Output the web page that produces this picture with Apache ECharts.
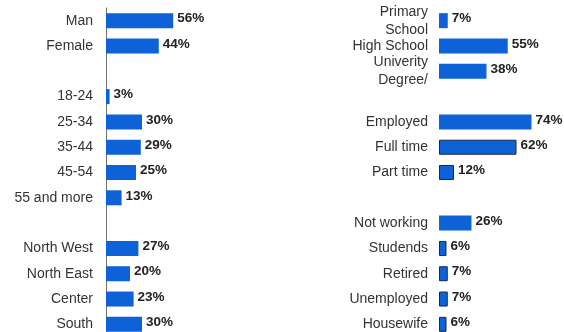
<!DOCTYPE html>
<html><head><meta charset="utf-8">
<script src="https://cdn.jsdelivr.net/npm/echarts@6/dist/echarts.min.js"></script>
<style>html,body{margin:0;padding:0;background:#fff;overflow:hidden;width:564px;height:332px}#c{width:564px;height:345px}</style>
</head><body><div id="c"></div>
<script>
const leftCategories = ['Man','Female',' ','18-24','25-34','35-44','45-54','55 and more','  ','North West','North East','Center','South'];
const leftValues = [56,44,null,3,30,29,25,13,null,27,20,23,30];
const rightCategories = ['Primary\nSchool','High School','Univerity\nDegree/',' ','Employed','Full time','Part time','  ','Not working','Studends','Retired','Unemployed','Housewife'];
const rightValues = [7,55,38,null,74,62,12,null,26,6,7,7,6];
const rightSubItems = ['Full time','Part time','Studends','Retired','Unemployed','Housewife'];

const BLUE = '#0d62d8';
const labelFont = {fontFamily:'Liberation Sans, Arial, sans-serif', fontSize:14, color:'#333'};
const valueLabel = {show:true, position:'right', distance:4, offset:[0,-2], formatter:p=>p.value==null?'':p.value+'%', fontFamily:'Liberation Sans, Arial, sans-serif', fontSize:13.5, fontWeight:'bold', color:'#222'};

const rightData = rightValues.map((v,i)=> rightSubItems.includes(rightCategories[i]) ? {value:v, itemStyle:{borderColor:'#1b2748', borderWidth:1}} : v);

const chart = echarts.init(document.getElementById('c'), null, {renderer:'canvas'});
chart.setOption({
  animation:false,
  grid:[
    {left:106, top:8, width:120, height:329},
    {left:439, top:8, width:130, height:329}
  ],
  xAxis:[
    {gridIndex:0, type:'value', min:0, max:100, show:false},
    {gridIndex:1, type:'value', min:0, max:100, show:false}
  ],
  yAxis:[
    {gridIndex:0, type:'category', inverse:true, data:leftCategories,
     axisLine:{show:true, lineStyle:{color:'#707070', width:1}}, axisTick:{show:false},
     axisLabel:Object.assign({margin:13, interval:0, padding:[4,0,0,0]}, labelFont)},
    {gridIndex:1, type:'category', inverse:true, data:rightCategories,
     axisLine:{show:false}, axisTick:{show:false},
     axisLabel:Object.assign({margin:11, interval:0, lineHeight:18, align:'right', padding:[5,0,0,0]}, labelFont)}
  ],
  series:[
    {type:'bar', xAxisIndex:0, yAxisIndex:0, data:leftValues, barWidth:15, itemStyle:{color:BLUE}, label:valueLabel},
    {type:'bar', xAxisIndex:1, yAxisIndex:1, data:rightData, barWidth:15, itemStyle:{color:BLUE}, label:valueLabel}
  ]
});
</script></body></html>
